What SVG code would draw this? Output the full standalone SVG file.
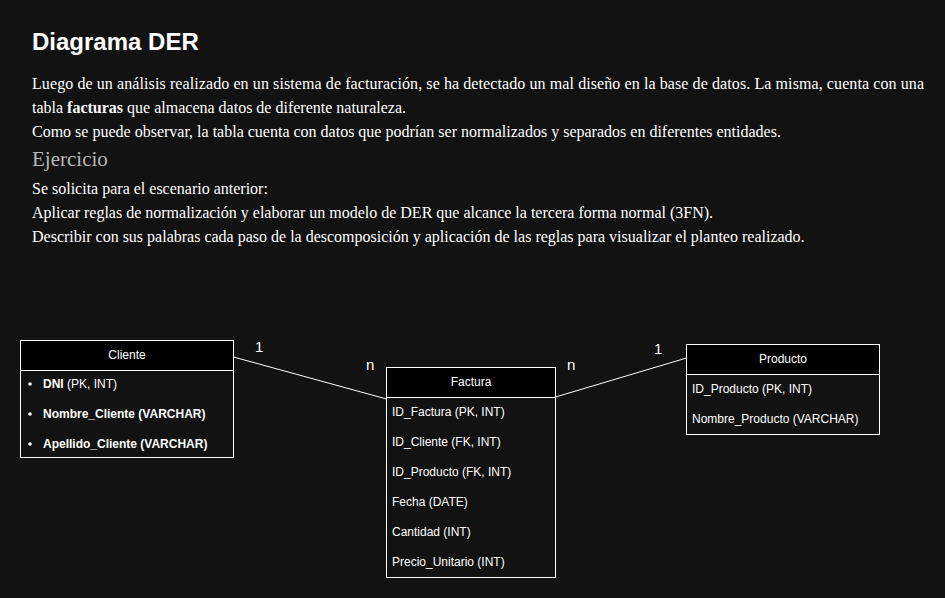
<svg xmlns="http://www.w3.org/2000/svg" width="945" height="598" viewBox="0 0 945 598">
<style>
.bg{fill:#121212}
.title{font-family:"Liberation Sans",Arial,sans-serif;font-size:24px;font-weight:bold;fill:#ffffff}
.p{font-family:"Liberation Serif","Times New Roman",serif;font-size:16px;fill:#ffffff}
.h2{font-family:"Liberation Serif","Times New Roman",serif;font-size:21px;fill:#b8b8b8}
.box{fill:#121212;stroke:#ffffff;stroke-width:1}
.hdr{fill:#000000;stroke:#ffffff;stroke-width:1}
.ht{font-family:"Liberation Sans",Arial,sans-serif;font-size:12px;fill:#ffffff;text-anchor:middle}
.t{font-family:"Liberation Sans",Arial,sans-serif;font-size:12px;fill:#ffffff}
.b{font-weight:bold}
.lbl{font-family:"Liberation Sans",Arial,sans-serif;font-size:15px;fill:#ffffff}
.conn{stroke:#ffffff;stroke-width:1;fill:none}
</style>
<rect class="bg" x="0" y="0" width="945" height="598"/>
<g id="header-text">
<text class="title" x="32" y="50">Diagrama DER</text>
<text class="p" x="32" y="89" textLength="892" lengthAdjust="spacing">Luego de un análisis realizado en un sistema de facturación, se ha detectado un mal diseño en la base de datos. La misma, cuenta con una</text>
<text class="p" x="32" y="113">tabla <tspan font-weight="bold">facturas</tspan> que almacena datos de diferente naturaleza.</text>
<text class="p" x="32" y="137">Como se puede observar, la tabla cuenta con datos que podrían ser normalizados y separados en diferentes entidades.</text>
<text class="h2" x="32" y="166">Ejercicio</text>
<text class="p" x="32" y="194">Se solicita para el escenario anterior:</text>
<text class="p" x="32" y="218">Aplicar reglas de normalización y elaborar un modelo de DER que alcance la tercera forma normal (3FN).</text>
<text class="p" x="32" y="242">Describir con sus palabras cada paso de la descomposición y aplicación de las reglas para visualizar el planteo realizado.</text>
</g>
<g id="connectors">
<line class="conn" x1="233.5" y1="357" x2="386.5" y2="399"/>
<line class="conn" x1="555.5" y1="397" x2="686.5" y2="358"/>
<text class="lbl" x="255" y="352">1</text>
<text class="lbl" x="366" y="370">n</text>
<text class="lbl" x="567" y="370">n</text>
<text class="lbl" x="654" y="354">1</text>
</g>
<g id="cliente">
<rect class="box" x="20.5" y="340.5" width="213" height="117"/>
<rect class="hdr" x="20.5" y="340.5" width="213" height="30"/>
<text class="ht" x="127" y="359">Cliente</text>
<circle cx="30" cy="384" r="1.8" fill="#ffffff"/>
<circle cx="30" cy="414" r="1.8" fill="#ffffff"/>
<circle cx="30" cy="444" r="1.8" fill="#ffffff"/>
<text class="t" x="43" y="388"><tspan class="b">DNI</tspan> (PK, INT)</text>
<text class="t b" x="43" y="418">Nombre_Cliente (VARCHAR)</text>
<text class="t b" x="43" y="448">Apellido_Cliente (VARCHAR)</text>
</g>
<g id="factura">
<rect class="box" x="386.5" y="367.5" width="169" height="210"/>
<rect class="hdr" x="386.5" y="367.5" width="169" height="30"/>
<text class="ht" x="471" y="386">Factura</text>
<text class="t" x="392" y="416">ID_Factura (PK, INT)</text>
<text class="t" x="392" y="446">ID_Cliente (FK, INT)</text>
<text class="t" x="392" y="476">ID_Producto (FK, INT)</text>
<text class="t" x="392" y="506">Fecha (DATE)</text>
<text class="t" x="392" y="536">Cantidad (INT)</text>
<text class="t" x="392" y="566">Precio_Unitario (INT)</text>
</g>
<g id="producto">
<rect class="box" x="686.5" y="344.5" width="193" height="90"/>
<rect class="hdr" x="686.5" y="344.5" width="193" height="30"/>
<text class="ht" x="783" y="363">Producto</text>
<text class="t" x="692" y="393">ID_Producto (PK, INT)</text>
<text class="t" x="692" y="423">Nombre_Producto (VARCHAR)</text>
</g>
</svg>
